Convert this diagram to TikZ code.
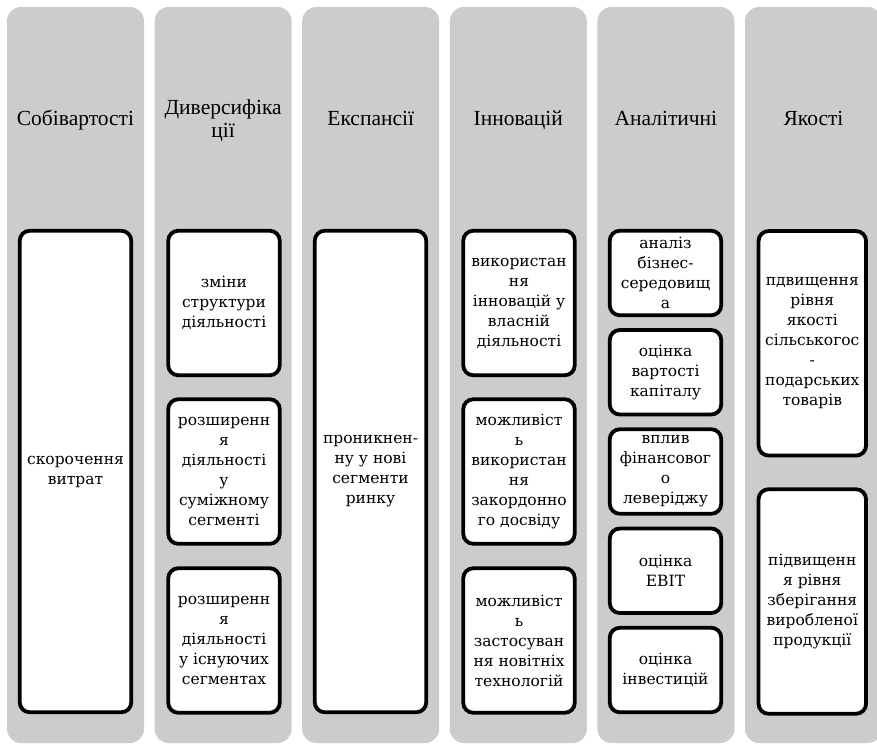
\documentclass[tikz,border=0pt]{standalone}
\usepackage{fontspec}
\setmainfont{Liberation Serif}
\newfontfamily\bodyfont{DejaVu Serif}
\definecolor{colgrey}{RGB}{204,204,204}
\tikzset{
  colbg/.style={fill=colgrey, draw=none, rounded corners=14pt, minimum width=137pt, minimum height=736pt, inner sep=0pt},
  hdr/.style={align=center, font=\fontsize{21.5}{23}\selectfont, inner sep=0pt, anchor=base},
  bx/.style={draw=black, fill=white, line width=3.8pt, rounded corners=10pt, align=center, inner sep=0pt, font=\bodyfont\fontsize{15.5}{20}\selectfont, minimum width=111.5pt},
}
\begin{document}
\begin{tikzpicture}[x=1pt,y=-1pt]
\useasboundingbox (0,0) rectangle (877,745);
\clip (0,0) rectangle (877,745);
% columns
\node[colbg] (c1) at (75.5,375) {};
\node[colbg] (c2) at (223.1,375) {};
\node[colbg] (c3) at (370.7,375) {};
\node[colbg] (c4) at (518.3,375) {};
\node[colbg] (c5) at (665.9,375) {};
\node[colbg] (c6) at (813.5,375) {};
% headers
\node[hdr] (h1) at (75.5,125) {Собівартості};
\node[hdr] (h2) at (223.1,137) {Диверсифіка\\ції};
\node[hdr] (h3) at (370.7,125) {Експансії};
\node[hdr] (h4) at (518.3,125) {Інновацій};
\node[hdr] (h5) at (665.9,125) {Аналітичні};
\node[hdr] (h6) at (813.5,125) {Якості};
% column 1
\node[bx, minimum height=481.5pt] (b11) at (75.5,471.5) {скорочення\\витрат};
% column 2
\node[bx, minimum height=144.5pt] (b21) at (224,303) {зміни\\структури\\діяльності};
\node[bx, minimum height=144.5pt] (b22) at (224,471.5) {розширенн\\я\\діяльності\\у\\суміжному\\сегменті};
\node[bx, minimum height=144.5pt] (b23) at (224,640.5) {розширенн\\я\\діяльності\\у існуючих\\сегментах};
% column 3
\node[bx, minimum height=481.5pt] (b31) at (370.5,471.5) {проникнен-\\ну у нові\\сегменти\\ринку};
% column 4
\node[bx, minimum height=144.5pt] (b41) at (519,303) {використан\\ня\\інновацій у\\власній\\діяльності};
\node[bx, minimum height=144.5pt] (b42) at (519,471.5) {можливіст\\ь\\використан\\ня\\закордонно\\го досвіду};
\node[bx, minimum height=144.5pt] (b43) at (519,640.5) {можливіст\\ь\\застосуван\\ня новітніх\\технологій};
% column 5
\node[bx, minimum height=84.5pt] (b51) at (665.5,273) {аналіз\\бізнес-\\середовищ\\а};
\node[bx, minimum height=84.5pt] (b52) at (665.5,372.25) {оцінка\\вартості\\капіталу};
\node[bx, minimum height=84.5pt] (b53) at (665.5,471.5) {вплив\\фінансовог\\о\\леверіджу};
\node[bx, minimum height=84.5pt] (b54) at (665.5,570.75) {оцінка\\EBIT};
\node[bx, minimum height=84.5pt] (b55) at (665.5,670) {оцінка\\інвестицій};
% column 6
\node[bx, minimum width=107.5pt, minimum height=224.5pt] (b61) at (812.3,343.3) {пдвищення\\рівня\\якості\\сільськогос\\-\\подарських\\товарів};
\node[bx, minimum width=107.5pt, minimum height=224.5pt] (b62) at (812.3,601.5) {підвищенн\\я рівня\\зберігання\\виробленої\\продукції};
\end{tikzpicture}
\end{document}
